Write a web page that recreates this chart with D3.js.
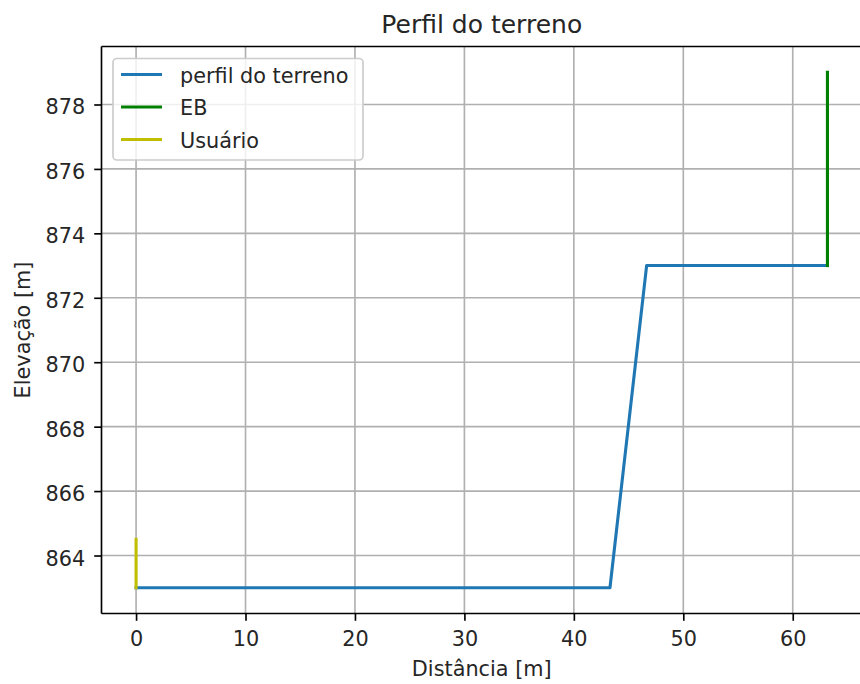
<!DOCTYPE html>
<html>
<head>
<meta charset="utf-8">
<script src="https://cdn.jsdelivr.net/npm/d3@7"></script>
<style>
  html, body { margin: 0; padding: 0; background: #fff; }
  svg { display: block; font-family: "DejaVu Sans", sans-serif; }
</style>
</head>
<body>
<svg id="chart" width="860" height="684"></svg>
<script>
// Terrain profile between the user (Usuário) and the base station (EB)
const profileDist = [0, 43.3, 46.65, 63.17];
const profileElev = [863, 863, 873, 873];
const ebDist = [63.17, 63.17];
const ebElev = [873, 879];
const userDist = [0, 0];
const userElev = [863, 864.5];
const xTicks = [0, 10, 20, 30, 40, 50, 60];
const yTicks = [864, 866, 868, 870, 872, 874, 876, 878];
const legendLabels = ["perfil do terreno", "EB", "Usuário"];
const legendColors = ["#1f77b4", "#008000", "#bfbf00"];

const svg = d3.select("#chart");
const plotLeft = 101.5, plotRight = 862, plotTop = 46.5, plotBottom = 613.5;
const textColor = "#262626";
const fontSize = "20.8px";

// 5% padding around the data extent
const xMin = 0, xMax = 63.17, yMin = 863, yMax = 879;
const xPad = (xMax - xMin) * 0.05, yPad = (yMax - yMin) * 0.05;
const x = d3.scaleLinear().domain([xMin - xPad, xMax + xPad]).range([plotLeft, plotRight]);
const y = d3.scaleLinear().domain([yMin - yPad, yMax + yPad]).range([plotBottom, plotTop]);

// Grid
const grid = svg.append("g").attr("stroke", "#b0b0b0").attr("stroke-width", 1.65);
xTicks.forEach(t => grid.append("line")
  .attr("x1", x(t)).attr("x2", x(t)).attr("y1", plotTop).attr("y2", plotBottom));
yTicks.forEach(t => grid.append("line")
  .attr("x1", plotLeft).attr("x2", plotRight).attr("y1", y(t)).attr("y2", y(t)));

// Axes
const xAxis = d3.axisBottom(x).tickValues(xTicks).tickSize(7.3).tickFormat(d3.format("d"));
const yAxis = d3.axisLeft(y).tickValues(yTicks).tickSize(7.3).tickPadding(9).tickFormat(d3.format("d"));
const gx = svg.append("g").attr("transform", `translate(0,${plotBottom})`).call(xAxis);
const gy = svg.append("g").attr("transform", `translate(${plotLeft},0)`).call(yAxis);
[gx, gy].forEach(g => {
  g.select(".domain").remove();
  g.selectAll(".tick line").attr("stroke", "#000").attr("stroke-width", 1.65);
  g.selectAll(".tick text").attr("fill", textColor).style("font-size", fontSize)
   .style("font-family", "DejaVu Sans, sans-serif");
});
gx.selectAll(".tick text").attr("y", 32.5).attr("dy", 0);
gy.selectAll(".tick text").attr("dy", 9.5);

// Lines
const line = d3.line().x(d => x(d[0])).y(d => y(d[1]));
const series = [
  [profileDist, profileElev, legendColors[0]],
  [ebDist, ebElev, legendColors[1]],
  [userDist, userElev, legendColors[2]]
];
series.forEach(([xs, ys, c]) => {
  svg.append("path")
    .datum(xs.map((v, i) => [v, ys[i]]))
    .attr("d", line)
    .attr("fill", "none")
    .attr("stroke", c)
    .attr("stroke-width", 3.1)
    .attr("stroke-linecap", "square")
    .attr("stroke-linejoin", "round");
});

// Spines
const sp = svg.append("g").attr("stroke", "#000").attr("stroke-width", 1.65);
sp.append("line").attr("x1", plotLeft).attr("x2", plotLeft).attr("y1", plotTop).attr("y2", plotBottom);
sp.append("line").attr("x1", plotLeft).attr("x2", plotRight).attr("y1", plotBottom).attr("y2", plotBottom);
sp.append("line").attr("x1", plotLeft).attr("x2", plotRight).attr("y1", plotTop).attr("y2", plotTop);
sp.append("line").attr("x1", plotRight).attr("x2", plotRight).attr("y1", plotTop).attr("y2", plotBottom);

// Legend
const lg = svg.append("g");
lg.append("rect")
  .attr("x", 113).attr("y", 58.5).attr("width", 250).attr("height", 101.5)
  .attr("rx", 4).attr("fill", "#fff").attr("fill-opacity", 0.8)
  .attr("stroke", "#cccccc").attr("stroke-width", 1.65);
legendLabels.forEach((lab, i) => {
  const cy = 74.5 + i * 32.5;
  lg.append("line").attr("x1", 121).attr("x2", 162).attr("y1", cy).attr("y2", cy)
    .attr("stroke", legendColors[i]).attr("stroke-width", 3.1);
  lg.append("text").attr("x", 180).attr("y", cy + 8)
    .attr("fill", textColor).style("font-size", fontSize).text(lab);
});

// Title and axis labels
const midX = (plotLeft + plotRight) / 2;
svg.append("text").attr("x", midX).attr("y", 33)
  .attr("text-anchor", "middle").attr("fill", textColor).style("font-size", "25px")
  .text("Perfil do terreno");
svg.append("text").attr("x", midX).attr("y", 676)
  .attr("text-anchor", "middle").attr("fill", textColor).style("font-size", fontSize)
  .text("Distância [m]");
svg.append("text").attr("transform", `translate(30,${(plotTop + plotBottom) / 2}) rotate(-90)`)
  .attr("text-anchor", "middle").attr("fill", textColor).style("font-size", fontSize)
  .text("Elevação [m]");
</script>
</body>
</html>
